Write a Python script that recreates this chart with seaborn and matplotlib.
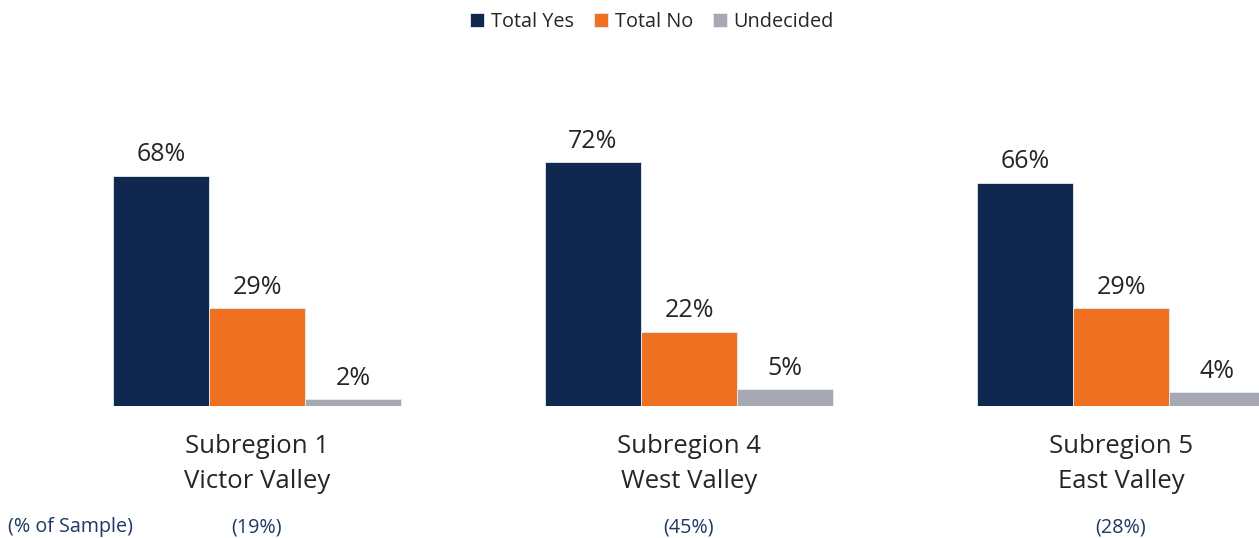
import matplotlib
matplotlib.use("Agg")
import matplotlib.pyplot as plt
import seaborn as sns
import pandas as pd

# data
regions = ["Subregion 1\nVictor Valley", "Subregion 4\nWest Valley", "Subregion 5\nEast Valley"]
series = ["Total Yes", "Total No", "Undecided"]
total_yes = [68, 72, 66]
total_no = [29, 22, 29]
undecided = [2, 5, 4]
sample_share = ["(19%)", "(45%)", "(28%)"]
colors = ["#10284f", "#f07022", "#a7a8b5"]

df = pd.DataFrame({
    "region": regions * 3,
    "series": [s for s in series for _ in regions],
    "value": total_yes + total_no + undecided,
})

sns.set_theme(style="white")
plt.rcParams["font.family"] = ["Open Sans", "DejaVu Sans"]

fig = plt.figure(figsize=(12.59, 5.38), dpi=100)
ax = fig.add_axes([0, 132 / 538, 1, 406 / 538])

sns.barplot(data=df, x="region", y="value", hue="series", palette=colors, saturation=1,
            width=0.667, edgecolor="#e8ecf2", linewidth=0.6, ax=ax, legend=True)

ax.set_xlim(-257 / 432, (1259 - 257) / 432)
ax.set_ylim(0, 406 / 3.385)

for cont in ax.containers:
    ax.bar_label(cont, labels=[f"{v:.0f}%" for v in cont.datavalues],
                 padding=6, fontsize=18, color="#262626")

sns.despine(ax=ax, left=True, bottom=True)
ax.set_yticks([])
ax.set_xlabel("")
ax.set_ylabel("")
ax.tick_params(axis="x", length=0, pad=20, labelsize=18.5, colors="#262626")
for lbl in ax.get_xticklabels():
    lbl.set_linespacing(1.56)

leg = ax.legend(loc="upper center", bbox_to_anchor=(0.518, 1.0), ncol=3, frameon=False,
                fontsize=14.3, handlelength=0.7, handleheight=0.7, handletextpad=0.35,
                columnspacing=1.0, borderaxespad=0.2, bbox_transform=fig.transFigure)
for t in leg.get_texts():
    t.set_color("#262626")

# sample share row
fig.text(8 / 1259, 1 - 527 / 538, "(% of Sample)", fontsize=14.2, color="#1f3864", va="center", ha="left")
for i, s in enumerate(sample_share):
    ax.text(i, -(527 - 406) / 406, s, transform=ax.get_xaxis_transform(), fontsize=14.2,
            color="#1f3864", ha="center", va="center")

fig.savefig("out.png", dpi=100)
